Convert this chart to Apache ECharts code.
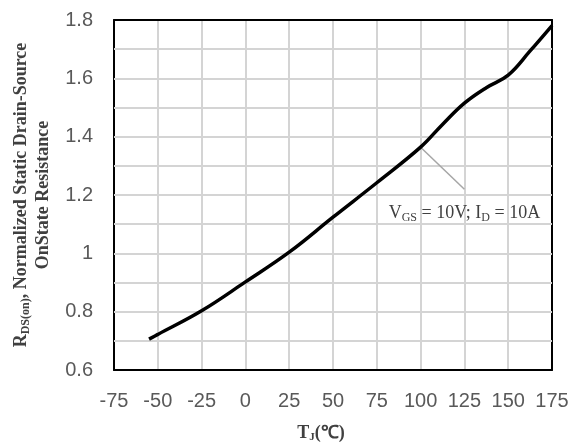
<!DOCTYPE html>
<html lang="en">
<head>
    <meta charset="UTF-8">
    <title>RDS(on) vs TJ</title>
    <script src="https://cdn.jsdelivr.net/npm/echarts@6/dist/echarts.min.js"></script>
    <style>
        html, body {margin: 0; padding: 0; background: #fff;}
        #chart {width: 572px; height: 448px;}
    </style>
</head>
<body>
<div id="chart"></div>
<script>
    // junction temperature (degC) and normalized on-resistance
    var temps = [-55, -50, -25, 0, 25, 50, 75, 100, 112.5, 125, 137.5, 150, 162.5, 175];
    var rdsNorm = [0.706, 0.722, 0.803, 0.902, 1.004, 1.124, 1.242, 1.364, 1.442, 1.515, 1.568, 1.611, 1.694, 1.781];

    // horizontal gridlines (every 0.1 inside the plot)
    var yGridTicks = [0.7, 0.8, 0.9, 1.0, 1.1, 1.2, 1.3, 1.4, 1.5, 1.6, 1.7];

    // callout: pointer from the curve to the label
    var calloutFrom = [100, 1.364];
    var calloutTo = [125, 1.22];
    var calloutLabelAt = [125, 1.138];

    var points = [];
    for (var i = 0; i < temps.length; i++) {
        points.push([temps[i], rdsNorm[i]]);
    }
    var hLines = yGridTicks.map(function (v) { return {yAxis: v}; });

    var serif = "'Liberation Serif', 'Times New Roman', serif";
    var gridColor = '#d4d4d4';
    var frame = {show: true, onZero: false, lineStyle: {color: '#000', width: 2}};

    var myChart = echarts.init(document.getElementById('chart'));
    myChart.setOption({
        animation: false,
        backgroundColor: '#fff',
        grid: {left: 114, right: 20, top: 20, bottom: 75},
        xAxis: [{
            type: 'value',
            min: -75, max: 175, interval: 25,
            axisLine: frame,
            axisTick: {show: false},
            axisLabel: {
                color: '#595959', fontSize: 20, margin: 21,
                fontFamily: "'Liberation Sans', Arial, sans-serif"
            },
            splitLine: {show: true, lineStyle: {color: gridColor, width: 2}},
            name: '{b|T}{s|J}{b|(℃)}',
            nameLocation: 'middle',
            nameGap: 52,
            nameTextStyle: {
                padding: [0, 24, 0, 0],
                rich: {
                    b: {fontFamily: serif, fontWeight: 'bold', fontSize: 18, color: '#404040', lineHeight: 22},
                    s: {fontFamily: serif, fontWeight: 'bold', fontSize: 11, color: '#404040', lineHeight: 11, padding: [9, 0, 0, 0]}
                }
            }
        }, {
            type: 'value', position: 'top',
            min: -75, max: 175, interval: 25,
            axisLine: frame, axisTick: {show: false}, axisLabel: {show: false}, splitLine: {show: false}
        }],
        yAxis: [{
            type: 'value',
            min: 0.6, max: 1.8, interval: 0.1,
            axisLine: frame,
            axisTick: {show: false},
            axisLabel: {
                color: '#595959', fontSize: 20, margin: 21,
                fontFamily: "'Liberation Sans', Arial, sans-serif",
                // gridlines every 0.1, labels every 0.2
                formatter: function (v) {
                    var k = Math.round(v * 10);
                    return k % 2 === 0 ? String(k / 10) : '';
                }
            },
            splitLine: {show: true, lineStyle: {color: gridColor, width: 2}},
            name: '{b|R}{s|DS(on)}{b|, Normalized Static Drain-Source}\n{b|OnState Resistance}',
            nameLocation: 'middle',
            nameRotate: 90,
            nameGap: 60,
            nameTextStyle: {
                align: 'center',
                rich: {
                    b: {fontFamily: serif, fontWeight: 'bold', fontSize: 18, color: '#404040', lineHeight: 22, align: 'center'},
                    s: {fontFamily: serif, fontWeight: 'bold', fontSize: 12, color: '#404040', lineHeight: 12, padding: [9, 0, 0, 0], align: 'center'}
                }
            }
        }, {
            type: 'value', position: 'right',
            min: 0.6, max: 1.8, interval: 0.1,
            axisLine: frame, axisTick: {show: false}, axisLabel: {show: false}, splitLine: {show: false}
        }],
        series: [
            {
                // horizontal grid drawn as marker lines on the y scale
                type: 'line',
                data: [],
                z: 1,
                silent: true,
                markLine: {
                    silent: true,
                    symbol: ['none', 'none'],
                    label: {show: false},
                    emphasis: {disabled: true},
                    lineStyle: {color: gridColor, width: 2, type: 'solid'},
                    data: hLines
                }
            },
            {
                type: 'line',
                data: points,
                smooth: 0.4,
                showSymbol: false,
                z: 5,
                lineStyle: {color: '#000', width: 3.5},
                markLine: {
                    silent: true,
                    symbol: ['none', 'none'],
                    label: {show: false},
                    lineStyle: {color: '#a6a6a6', width: 1.5, type: 'solid'},
                    data: [[{coord: calloutFrom}, {coord: calloutTo}]]
                },
                markPoint: {
                    silent: true,
                    symbol: 'circle',
                    symbolSize: 0,
                    data: [{coord: calloutLabelAt}],
                    label: {
                        show: true,
                        position: 'inside',
                        formatter: '{n|V}{s|GS}{n| = 10V; I}{s|D}{n| = 10A}',
                        rich: {
                            n: {fontFamily: serif, fontSize: 18, color: '#404040', lineHeight: 22},
                            s: {fontFamily: serif, fontSize: 12, color: '#404040', lineHeight: 12, padding: [9, 0, 0, 0]}
                        }
                    }
                }
            }
        ]
    });
</script>
</body>
</html>
